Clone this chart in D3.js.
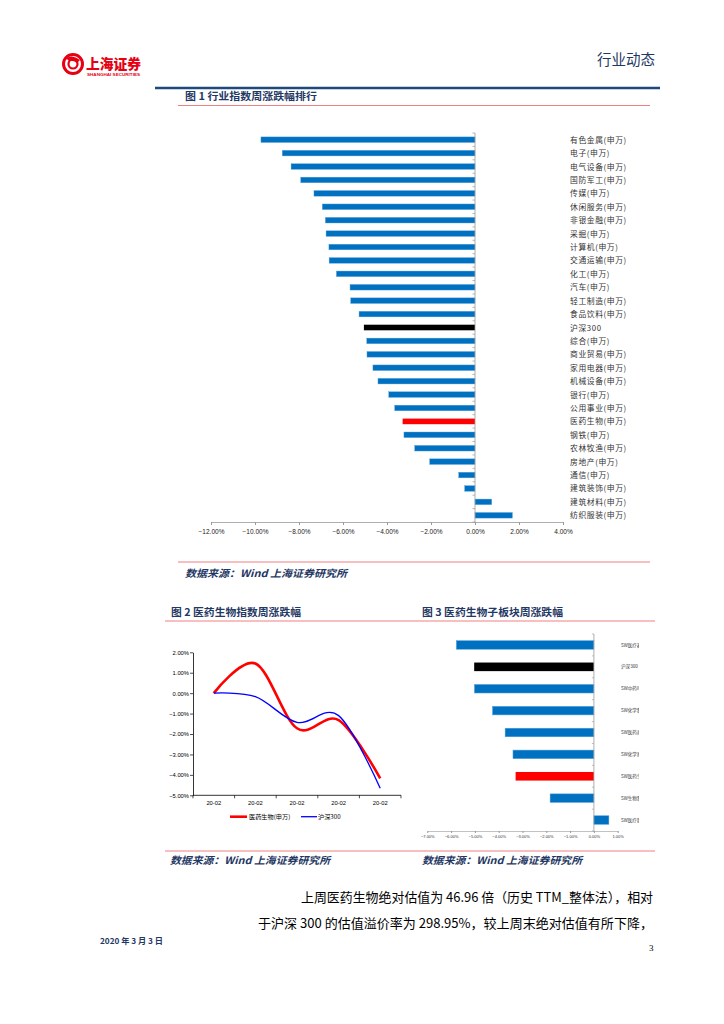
<!DOCTYPE html>
<html><head><meta charset="utf-8">
<script src="https://cdn.jsdelivr.net/npm/d3@7"></script>
<style>
html,body{margin:0;padding:0;background:#fff;}
svg{display:block;}
</style></head>
<body>
<svg id="page" width="724" height="1024"></svg>
<script>
// ---------- data ----------
const cats1 = ["有色金属(申万)","电子(申万)","电气设备(申万)","国防军工(申万)","传媒(申万)","休闲服务(申万)","非银金融(申万)","采掘(申万)","计算机(申万)","交通运输(申万)","化工(申万)","汽车(申万)","轻工制造(申万)","食品饮料(申万)","沪深300","综合(申万)","商业贸易(申万)","家用电器(申万)","机械设备(申万)","银行(申万)","公用事业(申万)","医药生物(申万)","钢铁(申万)","农林牧渔(申万)","房地产(申万)","通信(申万)","建筑装饰(申万)","建筑材料(申万)","纺织服装(申万)"];
const vals1 = [-9.73,-8.76,-8.36,-7.92,-7.32,-6.94,-6.80,-6.77,-6.64,-6.63,-6.30,-5.68,-5.65,-5.27,-5.05,-4.92,-4.91,-4.64,-4.41,-3.92,-3.65,-3.29,-3.23,-2.74,-2.06,-0.74,-0.47,0.76,1.70];
const ticks1 = [-12,-10,-8,-6,-4,-2,0,2,4];

const dates2 = ["20-02a","20-02b","20-02c","20-02d","20-02e"];
const dateLabels2 = ["20-02","20-02","20-02","20-02","20-02"];
const med2 = [0,1.45,-1.72,-1.32,-4.17];
const hs2 = [0,-0.17,-1.43,-1.10,-4.65];
const ticks2 = [2,1,0,-1,-2,-3,-4,-5];
const legend2 = ["医药生物(申万)","沪深300"];

const cats3 = ["SW医疗器械","沪深300","SW中药II","SW化学制药","SW医药商业","SW化学原料","SW医药生物","SW生物制品","SW医疗服务"];
const vals3 = [-5.78,-5.03,-5.02,-4.26,-3.73,-3.40,-3.29,-1.84,0.63];
const ticks3 = [-7,-6,-5,-4,-3,-2,-1,0,1];

// ---------- helpers ----------
const svg = d3.select("#page");
const CJK = "'Noto Sans CJK SC','Noto Sans',sans-serif";
const NAVY = "#1F3864";
const BLUE = "#0070C0";
const pct = d => d3.format(".2f")(d) + "%";
function barColor(name){ return name==="沪深300" ? "#000000" : (name.indexOf("医药生物")>=0 ? "#FF0000" : BLUE); }
function text(x,y,s,opt){
  const t = svg.append("text").attr("x",x).attr("y",y).text(s)
    .attr("font-family",opt.ff||CJK).attr("font-size",opt.fs||10).attr("fill",opt.fill||"#000");
  if(opt.fw) t.attr("font-weight",opt.fw);
  if(opt.fst) t.attr("font-style",opt.fst);
  if(opt.anchor) t.attr("text-anchor",opt.anchor);
  if(opt.len) t.attr("textLength",opt.len).attr("lengthAdjust","spacingAndGlyphs");
  return t;
}
function hline(x1,x2,y,color,w){ svg.append("line").attr("x1",x1).attr("x2",x2).attr("y1",y).attr("y2",y).attr("stroke",color).attr("stroke-width",w); }

// ---------- header ----------
const logo = svg.append("g");
logo.append("circle").attr("cx",73).attr("cy",64).attr("r",9.5).attr("fill","none").attr("stroke","#E60012").attr("stroke-width",3);
logo.append("circle").attr("cx",73).attr("cy",64).attr("r",4.5).attr("fill","none").attr("stroke","#E60012").attr("stroke-width",2.2);
logo.append("path").attr("d","M66,58 Q73,54 80,60 L77,63 Q73,60 69,61 Z").attr("fill","#E60012");
text(86,69,"上海证券",{fs:14,fw:"900",fill:"#E60012",len:55});
text(87,76,"SHANGHAI SECURITIES",{fs:4,fw:"bold",fill:"#E60012",ff:"Arial,'Liberation Sans',sans-serif",len:53});
text(597,65,"行业动态",{fs:14.5,fill:NAVY,len:58});
hline(155,660,88,"#1F497D",2.6);

// ---------- figure 1 ----------
text(185,99.5,"图 1 行业指数周涨跌幅排行",{fs:10,fw:"bold",fill:NAVY,len:132});
hline(178,650,105.5,"#F08080",1.2);

const x1 = d3.scaleLinear().domain([-12,4]).range([211,563]);
const y1 = d3.scaleBand().domain(cats1).range([133,522]);
const g1 = svg.append("g");
g1.selectAll("rect").data(cats1).join("rect")
  .attr("x",(d,i)=>x1(Math.min(0,vals1[i])))
  .attr("width",(d,i)=>Math.abs(x1(vals1[i])-x1(0)))
  .attr("y",d=>y1(d)+y1.bandwidth()/2-2.8)
  .attr("height",5.6)
  .attr("fill",d=>barColor(d))
  .attr("stroke",d=>barColor(d)===BLUE?"#5BA3DC":"none").attr("stroke-width",0.4);
const yAx1 = g1.append("g").attr("transform",`translate(${x1(0)},0)`);
yAx1.append("line").attr("y1",133).attr("y2",522).attr("stroke","#999").attr("stroke-width",0.8);
yAx1.selectAll("line.t").data(d3.range(cats1.length+1)).join("line").attr("class","t")
  .attr("x1",-2.5).attr("x2",0).attr("y1",i=>133+i*y1.step()).attr("y2",i=>133+i*y1.step())
  .attr("stroke","#999").attr("stroke-width",0.7);
const xAx1 = g1.append("g").attr("transform","translate(0,522)")
  .call(d3.axisBottom(x1).tickValues(ticks1).tickFormat(pct).tickSize(3).tickSizeOuter(0));
xAx1.select(".domain").attr("stroke","#999").attr("stroke-width",0.8);
xAx1.selectAll(".tick line").attr("stroke","#999");
xAx1.selectAll(".tick text").attr("font-family","Arial,'Liberation Sans',sans-serif").attr("font-size",6.5).attr("fill","#222").attr("dy","0.9em");
g1.selectAll("text.lab").data(cats1).join("text").attr("class","lab")
  .attr("x",570).attr("y",d=>y1(d)+y1.bandwidth()/2+3)
  .attr("font-family",CJK).attr("font-size",7.8).attr("letter-spacing",0.6).attr("fill","#333").text(d=>d);

hline(178,650,562,"#F08080",1.2);
text(185,576.5,"数据来源：Wind 上海证券研究所",{fs:10,fw:"bold",fst:"italic",fill:NAVY,len:162});

// ---------- figure 2 / 3 headers ----------
text(171,615.5,"图 2 医药生物指数周涨跌幅",{fs:10,fw:"bold",fill:NAVY,len:130});
text(422,615.5,"图 3 医药生物子板块周涨跌幅",{fs:10,fw:"bold",fill:NAVY,len:141});
hline(165,655,621,"#F08080",1.2);

// ---------- figure 2 ----------
const x2 = d3.scaleBand().domain(dates2).range([193,401]);
const y2 = d3.scaleLinear().domain([-5,2]).range([795.3,652.3]);
const g2 = svg.append("g");
const yA2 = g2.append("g").attr("transform","translate(193,0)")
  .call(d3.axisLeft(y2).tickValues(ticks2).tickFormat(pct).tickSize(3).tickSizeOuter(0));
yA2.select(".domain").attr("stroke","#000").attr("stroke-width",0.8);
yA2.selectAll(".tick line").attr("stroke","#000").attr("stroke-width",0.7);
yA2.selectAll(".tick text").attr("font-family","Arial,'Liberation Sans',sans-serif").attr("font-size",5.8).attr("fill","#000").attr("x",-4);
const xA2 = g2.append("g").attr("transform","translate(0,795.3)");
xA2.append("line").attr("x1",193).attr("x2",401).attr("stroke","#000").attr("stroke-width",0.8);
xA2.selectAll("line.t").data(d3.range(dates2.length+1)).join("line").attr("class","t")
  .attr("x1",i=>193+i*x2.step()).attr("x2",i=>193+i*x2.step()).attr("y1",0).attr("y2",3)
  .attr("stroke","#000").attr("stroke-width",0.7);
xA2.selectAll("text").data(dates2).join("text")
  .attr("x",d=>x2(d)+x2.bandwidth()/2).attr("y",10).attr("text-anchor","middle")
  .attr("font-family","Arial,'Liberation Sans',sans-serif").attr("font-size",5.8).text((d,i)=>dateLabels2[i]);
const line2 = d3.line().x((d,i)=>x2(dates2[i])+x2.bandwidth()/2).y(d=>y2(d)).curve(d3.curveCardinal.tension(0));
g2.append("path").datum(med2).attr("d",line2).attr("fill","none").attr("stroke","#FF0000").attr("stroke-width",2.6);
g2.append("path").datum(hs2).attr("d",line2).attr("fill","none").attr("stroke","#0000FF").attr("stroke-width",1.3);
hline(230,247,816.7,"#FF0000",2.6);
text(249,819,legend2[0],{fs:6.2,fill:"#000",ff:CJK});
hline(301,317,816.7,"#0000FF",1.3);
text(318,819,legend2[1],{fs:6.2,fill:"#000",ff:CJK});

// ---------- figure 3 ----------
const x3 = d3.scaleLinear().domain([-7,1]).range([427.3,617.7]);
const y3 = d3.scaleBand().domain(cats3).range([634,831]);
const g3 = svg.append("g");
g3.selectAll("rect").data(cats3).join("rect")
  .attr("x",(d,i)=>x3(Math.min(0,vals3[i])))
  .attr("width",(d,i)=>Math.abs(x3(vals3[i])-x3(0)))
  .attr("y",d=>y3(d)+y3.bandwidth()/2-4.3)
  .attr("height",8.6)
  .attr("fill",d=>barColor(d))
  .attr("stroke",d=>barColor(d)===BLUE?"#5BA3DC":"none").attr("stroke-width",0.5);
const yA3 = g3.append("g").attr("transform",`translate(${x3(0)},0)`);
yA3.append("line").attr("y1",634).attr("y2",831).attr("stroke","#999").attr("stroke-width",0.8);
yA3.selectAll("line.t").data(d3.range(cats3.length+1)).join("line").attr("class","t")
  .attr("x1",-2).attr("x2",0).attr("y1",i=>634+i*y3.step()).attr("y2",i=>634+i*y3.step())
  .attr("stroke","#999").attr("stroke-width",0.6);
const xA3 = g3.append("g").attr("transform","translate(0,831)")
  .call(d3.axisBottom(x3).tickValues(ticks3).tickFormat(pct).tickSize(2).tickSizeOuter(0));
xA3.select(".domain").attr("stroke","#999").attr("stroke-width",0.6);
xA3.selectAll(".tick line").attr("stroke","#999");
xA3.selectAll(".tick text").attr("font-family","Arial,'Liberation Sans',sans-serif").attr("font-size",4).attr("fill","#333").attr("y",4);
svg.append("clipPath").attr("id","clip3").append("rect").attr("x",615).attr("y",630).attr("width",24).attr("height",200);
g3.append("g").attr("clip-path","url(#clip3)").selectAll("text").data(cats3).join("text")
  .attr("x",621).attr("y",d=>y3(d)+y3.bandwidth()/2+1.6)
  .attr("font-family",CJK).attr("font-size",4.6).attr("fill","#333").text(d=>d);

hline(165,655,851,"#F08080",1.2);
text(170,864,"数据来源：Wind 上海证券研究所",{fs:10,fw:"bold",fst:"italic",fill:NAVY,len:160});
text(422,864,"数据来源：Wind 上海证券研究所",{fs:10,fw:"bold",fst:"italic",fill:NAVY,len:160});

// ---------- body text ----------
text(301,902,"上周医药生物绝对估值为 46.96 倍（历史 TTM_整体法），相对",{fs:13,fill:"#000",len:352});
text(258,928,"于沪深 300 的估值溢价率为 298.95%，较上周末绝对估值有所下降，",{fs:13,fill:"#000",len:395});
text(100,944,"2020 年 3 月 3 日",{fs:8,fw:"bold",fill:NAVY,len:63});
text(649,951,"3",{fs:9,fill:"#000",ff:"'Liberation Serif',serif"});
</script>
</body></html>
